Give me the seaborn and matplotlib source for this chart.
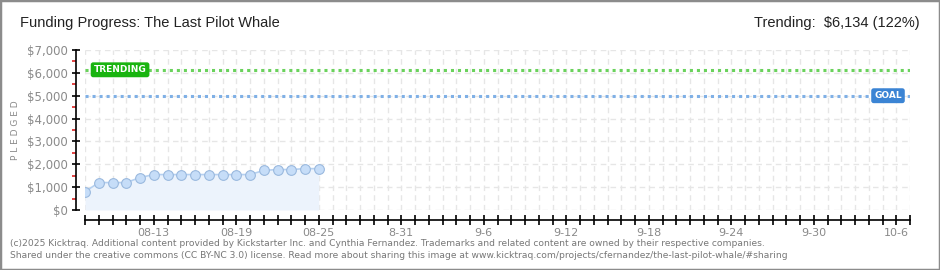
import matplotlib
matplotlib.use("Agg")
import matplotlib.pyplot as plt
import seaborn as sns
import pandas as pd
import numpy as np
from matplotlib.patches import Rectangle
from matplotlib.ticker import FixedLocator

# ---------------- data ----------------
title = "Funding Progress: The Last Pilot Whale"
start_date = "2025-08-08"
end_date = "2025-10-07"
dates = pd.date_range("2025-08-08", "2025-08-25").strftime("%Y-%m-%d").tolist()
pledged = [800, 1200, 1200, 1200, 1420, 1550, 1550, 1550, 1550, 1550, 1550, 1550,
           1550, 1730, 1770, 1770, 1810, 1810]
trending = 6134
goal = 5000
trend_pct = 122
xtick_dates = ["2025-08-13", "2025-08-19", "2025-08-25", "2025-08-31", "2025-09-06",
               "2025-09-12", "2025-09-18", "2025-09-24", "2025-09-30", "2025-10-06"]
xtick_labels = ["08-13", "08-19", "08-25", "8-31", "9-6", "9-12", "9-18", "9-24", "9-30", "10-6"]
ytick_values = [0, 1000, 2000, 3000, 4000, 5000, 6000, 7000]
ytick_labels = ["$0", "$1,000", "$2,000", "$3,000", "$4,000", "$5,000", "$6,000", "$7,000"]
footer_lines = [
    "(c)2025 Kicktraq. Additional content provided by Kickstarter Inc. and Cynthia Fernandez. Trademarks and related content are owned by their respective companies.",
    "Shared under the creative commons (CC BY-NC 3.0) license. Read more about sharing this image at www.kicktraq.com/projects/cfernandez/the-last-pilot-whale/#sharing",
]

# ---------------- setup ----------------
sns.set_style("white")
plt.rcParams["font.family"] = ["DejaVu Sans"]

t0 = pd.Timestamp(start_date)
days_total = (pd.Timestamp(end_date) - t0).days
df = pd.DataFrame({"date": pd.to_datetime(dates), "pledged": pledged})
df["day"] = (df["date"] - t0).dt.days

W, H = 940, 270
fig = plt.figure(figsize=(W / 100, H / 100), dpi=100)
fig.patch.set_facecolor("white")

left, right, bottom, top = 85, 910, 60, 220
ax = fig.add_axes([left / W, bottom / H, (right - left) / W, (top - bottom) / H])
ax.set_facecolor("white")

# grid
for d in range(0, days_total + 1):
    ax.axvline(d, color="#e6e6e6", lw=1.0, ls=(0, (4, 3)), zorder=0)
for v in ytick_values:
    ax.axhline(v, color="#e6e6e6", lw=1.0, ls=(0, (4, 3)), zorder=0)

# area + line + markers
ax.fill_between(df["day"], df["pledged"], 0, color="#ecf3fc", zorder=1, lw=0)
sns.lineplot(data=df, x="day", y="pledged", ax=ax, color="#b5d0f0", lw=1.2,
             marker="o", markersize=7, markerfacecolor="#c6ddf8",
             markeredgecolor="#9ab9de", markeredgewidth=0.8, zorder=3)

# trending and goal lines
ax.axhline(trending, color="#6ad25c", lw=2.2, ls=(0, (1, 1.3)), zorder=2)
ax.axhline(goal, color="#7fb0e6", lw=2.2, ls=(0, (1, 1.3)), zorder=2)

ax.text(2.55, trending, "TRENDING", color="white", fontsize=6.5, fontweight="bold",
        ha="center", va="center", zorder=5,
        bbox=dict(boxstyle="round,pad=0.25,rounding_size=0.2", fc="#19b410", ec="#19b410"))
ax.text(58.4, goal, "GOAL", color="white", fontsize=6.5, fontweight="bold",
        ha="center", va="center", zorder=5,
        bbox=dict(boxstyle="round,pad=0.25,rounding_size=0.2", fc="#3b84d4", ec="#3b84d4"))

ax.set_xlim(0, days_total)
ax.set_ylim(0, 7000)

# spines
for s in ["top", "right"]:
    ax.spines[s].set_visible(False)
ax.spines["left"].set_position(("outward", 6.5))
ax.spines["bottom"].set_position(("outward", 7.2))
for s in ["left", "bottom"]:
    ax.spines[s].set_color("black")
    ax.spines[s].set_linewidth(1.2)

# ticks
ax.set_yticks(ytick_values)
ax.set_yticklabels(ytick_labels)
ax.yaxis.set_minor_locator(FixedLocator([v + 500 for v in ytick_values[:-1]]))
ax.tick_params(axis="y", which="major", left=True, direction="inout", length=6, width=1.2,
               color="black", labelsize=8.5, labelcolor="#8a8a8a", pad=3)
ax.tick_params(axis="y", which="minor", left=True, direction="out", length=3, width=1.2,
               color="#dd2222")

xticks = list(range(0, days_total + 1))
label_map = {(pd.Timestamp(d) - t0).days: l for d, l in zip(xtick_dates, xtick_labels)}
ax.set_xticks(xticks)
ax.set_xticklabels([label_map.get(d, "") for d in xticks])
ax.tick_params(axis="x", which="major", bottom=True, direction="inout", length=7, width=1.2,
               color="black", labelsize=8, labelcolor="#8a8a8a", pad=2)
ax.set_xlabel("")
ax.set_ylabel("P L E D G E D", fontsize=6.5, color="#8a8a8a")
ax.yaxis.set_label_coords((20 - left) / (right - left), 0.5)

# title texts
fig.text(20 / W, 1 - 23 / H, title, fontsize=10.5, color="#222222", ha="left", va="center",
         family=["Liberation Sans", "DejaVu Sans"])
fig.text(920 / W, 1 - 23 / H, f"Trending:  ${trending:,} ({trend_pct}%)", fontsize=10.5,
         color="#222222", ha="right", va="center",
         family=["Liberation Sans", "DejaVu Sans"])

# footer
fig.text(10 / W, 1 - 243 / H, footer_lines[0], fontsize=6.6, color="#777777", ha="left", va="center")
fig.text(10 / W, 1 - 256 / H, footer_lines[1], fontsize=6.6, color="#777777", ha="left", va="center")

# border
fig.add_artist(Rectangle((0, 0), 1, 1, transform=fig.transFigure, fill=False,
                         ec="#8c8c8c", lw=2.5, zorder=10))

fig.savefig("out.png", dpi=100, facecolor="white")
